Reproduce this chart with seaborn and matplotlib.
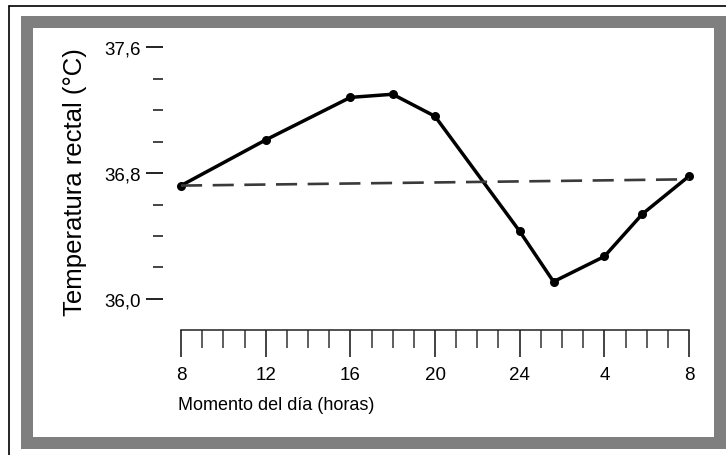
import numpy as np
import pandas as pd
import seaborn as sns
from matplotlib import pyplot as plt
from matplotlib.patches import Rectangle
from matplotlib.lines import Line2D

# data (hours after 8 h, rectal temperature)
hours = [0, 4, 8, 10, 12, 16, 17.6, 20, 21.8, 24]
temp = [36.72, 37.01, 37.28, 37.30, 37.16, 36.43, 36.11, 36.27, 36.54, 36.78]
ref_hours = [0, 24]
ref_temp = [36.72, 36.76]
xtick_pos = [0, 4, 8, 12, 16, 20, 24]
xtick_labels = ['8', '12', '16', '20', '24', '4', '8']
ytick_pos = [36.0, 36.8, 37.6]
ytick_labels = ['36,0', '36,8', '37,6']

df = pd.DataFrame({'hora': hours, 'temp': temp})

sns.set_style('white')
plt.rcParams['font.family'] = ['Liberation Sans Narrow', 'Liberation Sans', 'DejaVu Sans']
plt.rcParams['text.color'] = 'black'
plt.rcParams['xtick.color'] = 'black'
plt.rcParams['ytick.color'] = 'black'

W, H = 726, 456
fig = plt.figure(figsize=(W / 100, H / 100), dpi=100)

def px_rect(x0, y0, x1, y1, **kw):
    fig.add_artist(Rectangle((x0 / W, 1 - y1 / H), (x1 - x0) / W, (y1 - y0) / H,
                             transform=fig.transFigure, zorder=-5, **kw))

# frame
px_rect(21, 17, 740, 450, facecolor='#7f7f7f', edgecolor='none')
px_rect(33, 29, 714, 438, facecolor='white', edgecolor='none')
fig.add_artist(Line2D([9 / W, 1], [1 - 7 / H, 1 - 7 / H], color='black', lw=1.2,
                      transform=fig.transFigure, zorder=-4))
fig.add_artist(Line2D([9 / W, 9 / W], [0, 1 - 7 / H], color='black', lw=1.2,
                      transform=fig.transFigure, zorder=-4))

ax = fig.add_axes([181 / W, 1 - 300 / H, (689 - 181) / W, (300 - 48) / H])
ax.set_facecolor('none')

sns.lineplot(data=df, x='hora', y='temp', ax=ax, color='black', lw=2.5,
             marker='o', markersize=6.5, markeredgewidth=0, clip_on=False)
ax.plot(ref_hours, ref_temp, color='#3a3a3a', lw=1.9, dashes=(8, 4), clip_on=False)

ax.set_xlim(0, 24)
ax.set_ylim(36.0, 37.6)

# x axis hanging below
ax.spines['top'].set_visible(False)
ax.spines['right'].set_visible(False)
ax.spines['bottom'].set_position(('outward', 22))
ax.spines['bottom'].set_linewidth(1.1)
ax.spines['bottom'].set_color('#222222')
ax.set_xticks(xtick_pos, xtick_labels)
ax.set_xticks(np.arange(0, 25, 1), minor=True)
ax.tick_params(axis='x', which='both', bottom=True)
ax.tick_params(axis='x', which='major', direction='out', length=19.5, width=1.2,
               color='#222222', pad=7, labelsize=13.5)
ax.tick_params(axis='x', which='minor', direction='out', length=13, width=1.1,
               color='#333333')

# y axis: only dashes, no spine
ax.spines['left'].set_position(('outward', 13))
ax.spines['left'].set_color('none')
ax.set_yticks(ytick_pos, ytick_labels)
ax.set_yticks([36.2, 36.4, 36.6, 37.0, 37.2, 37.4], minor=True)
ax.tick_params(axis='y', which='both', left=True)
ax.tick_params(axis='y', which='major', direction='out', length=12, width=1.4,
               color='#222222', pad=4, labelsize=13.5)
ax.tick_params(axis='y', which='minor', direction='out', length=7, width=1.4,
               color='#444444')
ax.set_xlabel('')
ax.set_ylabel('')

fig.text(75 / W, 1 - 182 / H, 'Temperatura rectal (°C)', rotation=90,
         ha='center', va='center', fontsize=18.5, family=['Liberation Sans', 'DejaVu Sans'])
fig.text(178 / W, 1 - 406 / H, 'Momento del día (horas)', ha='left', va='center',
         fontsize=13)

fig.savefig('out.png', dpi=100)
